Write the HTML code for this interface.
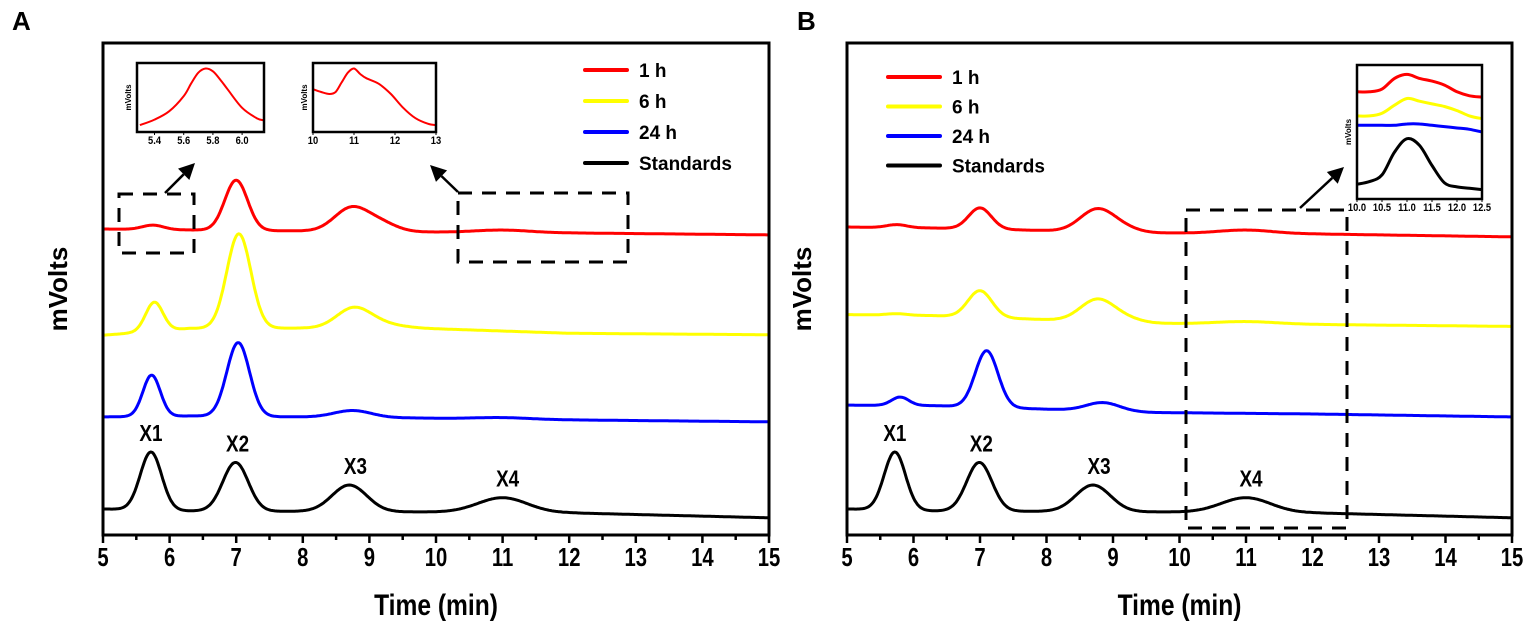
<!DOCTYPE html>
<html><head><meta charset="utf-8"><style>
html,body{margin:0;padding:0;background:#fff;}
svg{display:block;font-family:"Liberation Sans",Arial,sans-serif;}
</style></head><body>
<svg id="chart" width="1535" height="632" viewBox="0 0 1535 632" xmlns="http://www.w3.org/2000/svg"></svg>
<script>
// ---- data ----
const xTicks = [5,6,7,8,9,10,11,12,13,14,15];
const seriesNames = ["1 h","6 h","24 h","Standards"];
const seriesColors = ["#ff0000","#ffff00","#0000ff","#000000"];
// baseline knots (x in min, y in arbitrary mV units)
const baseX = [5, 6.3, 9.6, 12, 15];
// Panel A
const aRedBase = [62.2, 62.0, 61.6, 61.4, 61.0];
const aRedPeakX = [5.75, 7.0, 8.72, 9.15, 11.0];
const aRedPeakH = [0.9, 10.2, 4.6, 1.8, 0.5];
const aRedPeakW = [0.16, 0.17, 0.25, 0.25, 0.4];
const aYelBase = [40.6, 42.0, 42.1, 41.0, 40.7];
const aYelPeakX = [5.77, 7.04, 8.75, 9.1];
const aYelPeakH = [5.9, 19.2, 3.7, 1.0];
const aYelPeakW = [0.13, 0.18, 0.25, 0.3];
const aBluBase = [24.0, 24.2, 23.8, 23.4, 23.0];
const aBluPeakX = [5.73, 7.03, 8.75, 11.0];
const aBluPeakH = [8.4, 15.0, 1.4, 0.3];
const aBluPeakW = [0.13, 0.17, 0.28, 0.4];
const stdBase = [5.3, 4.9, 4.7, 4.5, 3.5];
const stdPeakX = [5.72, 6.99, 8.7, 11.0];
const stdPeakH = [11.8, 9.9, 5.4, 3.0];
const stdPeakW = [0.16, 0.19, 0.26, 0.37];
// Panel B
const bRedBase = [62.6, 62.4, 61.4, 61.2, 60.6];
const bRedPeakX = [5.75, 7.0, 8.75, 9.1, 11.0];
const bRedPeakH = [0.6, 4.3, 4.3, 1.0, 0.7];
const bRedPeakW = [0.15, 0.17, 0.25, 0.25, 0.4];
const bYelBase = [44.8, 44.6, 43.0, 42.8, 42.4];
const bYelPeakX = [5.75, 7.0, 8.75, 9.1, 11.0];
const bYelPeakH = [0.3, 5.4, 4.1, 1.0, 0.5];
const bYelPeakW = [0.15, 0.18, 0.25, 0.28, 0.45];
const bBluBase = [26.4, 26.3, 24.9, 24.6, 24.0];
const bBluPeakX = [5.8, 7.1, 8.85];
const bBluPeakH = [1.7, 11.5, 1.7];
const bBluPeakW = [0.13, 0.17, 0.25];
// inset data
const inA1X = [5.3,5.4,5.5,5.6,5.65,5.7,5.75,5.8,5.85,5.9,6.0,6.1,6.15];
const inA1Y = [10,18,30,52,70,86,92,88,76,62,35,20,17];
const inA2X = [10,10.2,10.4,10.55,10.7,10.85,11.0,11.15,11.3,11.6,11.9,12.2,12.5,12.8,13];
const inA2Y = [62,58,55,58,72,86,92,84,78,70,55,35,20,12,10];
const inBX = [10,10.25,10.5,10.75,11.0,11.25,11.5,11.75,12.0,12.25,12.5];
const inBRed = [80,80,82,90,93,90,88,85,80,77,76];
const inBYel = [62,62,64,70,75,73,71,69,66,62,60];
const inBBlu = [55,55,55,55,56,56,55,54,53,52,50];
const inBStd = [11,13,18,35,45,40,25,12,9,8,7];

const NS="http://www.w3.org/2000/svg";
const svg=document.getElementById('chart');
function mk(tag,attrs,parent){const e=document.createElementNS(NS,tag);for(const k in attrs)e.setAttribute(k,attrs[k]);(parent||svg).appendChild(e);return e;}
function txt(s,attrs,parent){const e=mk('text',attrs,parent);e.textContent=s;return e;}
function ntxt(s,x,y,size,parent,sc){return txt(s,{x:0,y:0,'font-size':size,'font-weight':'bold','text-anchor':'middle',transform:`translate(${x},${y}) scale(${sc||0.8},1)`},parent);}
function interp(xs,ys,x){for(let i=0;i<xs.length-1;i++){if(x<=xs[i+1]){const t=(x-xs[i])/(xs[i+1]-xs[i]);return ys[i]+t*(ys[i+1]-ys[i]);}}return ys[ys.length-1];}
function trace(base,px,ph,pw,x){let y=interp(baseX,base,x);for(let i=0;i<px.length;i++){y+=ph[i]*Math.exp(-0.5*Math.pow((x-px[i])/pw[i],2));}return y;}
function smooth(pts){let d='M'+pts[0][0].toFixed(1)+','+pts[0][1].toFixed(1);
  for(let i=0;i<pts.length-1;i++){const p0=pts[Math.max(0,i-1)],p1=pts[i],p2=pts[i+1],p3=pts[Math.min(pts.length-1,i+2)];
    const c1=[p1[0]+(p2[0]-p0[0])/6,p1[1]+(p2[1]-p0[1])/6],c2=[p2[0]-(p3[0]-p1[0])/6,p2[1]-(p3[1]-p1[1])/6];
    d+=`C${c1[0].toFixed(1)},${c1[1].toFixed(1)} ${c2[0].toFixed(1)},${c2[1].toFixed(1)} ${p2[0].toFixed(1)},${p2[1].toFixed(1)}`;}
  return d;}

function panel(p){
  const L=p.left,R=p.right,T=43,B=535;
  const sx=v=>L+(v-5)/(15-5)*(R-L);
  const sy=v=>B-v*(B-T)/100;
  const g=mk('g',{});
  
  
  const lbl=txt(p.letter,{x:p.letterX,y:30,'font-size':26,'font-weight':'bold'},g);
  
  
  p.series.forEach((s,i)=>{
    let d='';
    for(let x=5;x<=15.0001;x+=0.02){d+=(d?'L':'M')+sx(x).toFixed(1)+','+sy(trace(s[0],s[1],s[2],s[3],x)).toFixed(1);}
    const path=mk('path',{d:d,fill:'none',stroke:seriesColors[i],'stroke-width':3,'stroke-linejoin':'round'},g);
    
    
  });
  const fr=mk('rect',{x:L,y:T,width:R-L,height:B-T,fill:'none',stroke:'#000','stroke-width':3},g);
  
  
  xTicks.forEach(t=>{
    mk('line',{x1:sx(t),x2:sx(t),y1:B,y2:B+8,stroke:'#000','stroke-width':2.5},g);
    const tl=ntxt(String(t),sx(t),B+31,26,g,0.78);
    
    
    if(t<15)mk('line',{x1:sx(t+0.5),x2:sx(t+0.5),y1:B,y2:B+5,stroke:'#000','stroke-width':2.5},g);
  });
  const xt=ntxt('Time (min)',(L+R)/2,615,30,g,0.82);
  
  
  const yt=txt('mVolts',{x:0,y:0,'font-size':26,'font-weight':'bold','text-anchor':'middle',transform:`translate(${L-36},${(T+B)/2}) rotate(-90)`},g);
  
  
  seriesNames.forEach((n,i)=>{
    const y=p.legY+i*p.legDy;
    const le=mk('g',{},g);
    
    
    mk('line',{x1:p.legX,x2:p.legX+p.legW,y1:y,y2:y,stroke:seriesColors[i],'stroke-width':4,'stroke-linecap':'round'},le);
    txt(n,{x:p.legX+p.legW+12,y:y+7,'font-size':19,'font-weight':'bold'},le);
  });
  return {sx,sy,g};
}

const A=panel({name:'panel-a',letter:'A',letterX:12,left:103,right:769,legX:585,legW:42,legY:70,legDy:31,
  series:[[aRedBase,aRedPeakX,aRedPeakH,aRedPeakW],[aYelBase,aYelPeakX,aYelPeakH,aYelPeakW],[aBluBase,aBluPeakX,aBluPeakH,aBluPeakW],[stdBase,stdPeakX,stdPeakH,stdPeakW]]});
const Bp=panel({name:'panel-b',letter:'B',letterX:797,left:847,right:1512,legX:888,legW:52,legY:77,legDy:29.5,
  series:[[bRedBase,bRedPeakX,bRedPeakH,bRedPeakW],[bYelBase,bYelPeakX,bYelPeakH,bYelPeakW],[bBluBase,bBluPeakX,bBluPeakH,bBluPeakW],[stdBase,stdPeakX,stdPeakH,stdPeakW]]});

const peakLabels=["X1","X2","X3","X4"];
[A,Bp].forEach(P=>{
  peakLabels.forEach((n,i)=>{
    const x=stdPeakX[i];
    const y=trace(stdBase,stdPeakX,stdPeakH,stdPeakW,x);
    const t=ntxt(n,P.sx(x)+(i==1?2:i==2?6:i==3?5:0),P.sy(y)-11,23,P.g,0.82);
    
    
  });
});

function dashBox(x,y,w,h,name){const r=mk('rect',{x:x,y:y,width:w,height:h,fill:'none',stroke:'#000','stroke-width':3,'stroke-dasharray':'14,10'});}
function arrow(x1,y1,x2,y2,name){const g=mk('g',{});
  const a=Math.atan2(y2-y1,x2-x1),hl=16,hw=8;
  const bx=x2-hl*Math.cos(a),by=y2-hl*Math.sin(a);
  mk('line',{x1:x1,y1:y1,x2:bx,y2:by,stroke:'#000','stroke-width':2.5},g);
  mk('polygon',{points:`${x2},${y2} ${bx+hw*Math.sin(a)},${by-hw*Math.cos(a)} ${bx-hw*Math.sin(a)},${by+hw*Math.cos(a)}`,fill:'#000'},g);}
dashBox(119,194,75,59,'zoom-region-box-1');
dashBox(458,193,170,69,'zoom-region-box-2');
dashBox(1186,210,161,318,'zoom-region-box-b');
arrow(165,193,195,163,'inset-arrow-1');
arrow(458,192,430,165,'inset-arrow-2');
arrow(1300,208,1344,167,'inset-arrow-b');

function inset(o){
  const g=mk('g',{});
  const sx=v=>o.x+(v-o.x0)/(o.x1-o.x0)*o.w, sy=v=>o.y+o.h-v/100*o.h;
  o.lines.forEach((ln,i)=>{
    const pts=ln[0].map((x,j)=>[sx(x),sy(ln[1][j])]);
    const p=mk('path',{d:smooth(pts),fill:'none',stroke:ln[2],'stroke-width':o.sw,'stroke-linejoin':'round'},g);
    
  });
  mk('rect',{x:o.x,y:o.y,width:o.w,height:o.h,fill:'none',stroke:'#000','stroke-width':2.5},g);
  o.ticks.forEach(t=>{mk('line',{x1:sx(t),x2:sx(t),y1:o.y+o.h,y2:o.y+o.h+3,stroke:'#000','stroke-width':1},g);
    const tl=ntxt(o.fmt(t),sx(t),o.y+o.h+12,11,g,0.85);
    });
  txt('mVolts',{x:0,y:0,'font-size':8,'font-weight':'bold','text-anchor':'middle',transform:`translate(${o.x-6},${o.y+o.h/2}) rotate(-90)`},g);
}
inset({name:'inset-a-5to6',x:137,y:63,w:127,h:69,x0:5.28,x1:6.15,sw:2,lines:[[inA1X,inA1Y,'#ff0000']],ticks:[5.4,5.6,5.8,6.0],fmt:t=>t.toFixed(1)});
inset({name:'inset-a-10to13',x:313,y:63,w:123,h:69,x0:10,x1:13,sw:2,lines:[[inA2X,inA2Y,'#ff0000']],ticks:[10,11,12,13],fmt:t=>String(t)});
inset({name:'inset-b-10to12',x:1357,y:65,w:125,h:134,x0:10,x1:12.5,sw:3,lines:[[inBX,inBRed,'#ff0000'],[inBX,inBYel,'#ffff00'],[inBX,inBBlu,'#0000ff'],[inBX,inBStd,'#000000']],ticks:[10,10.5,11,11.5,12,12.5],fmt:t=>t.toFixed(1)});
</script>
</body></html>
